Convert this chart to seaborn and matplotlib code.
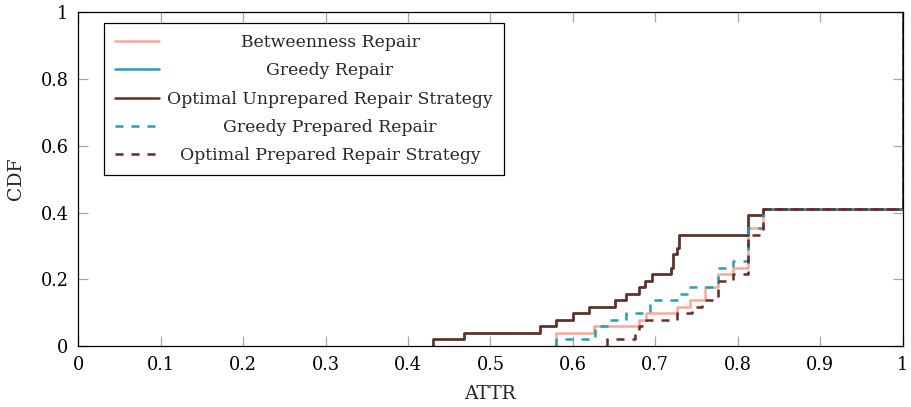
import numpy as np
import pandas as pd
import matplotlib
matplotlib.use("Agg")
import matplotlib.pyplot as plt
import seaborn as sns

# ATTR values where each strategy's empirical CDF steps, and how many
# networks share each value (the rest reach ATTR = 1).
betweenness_attr = [0.579, 0.6255, 0.680, 0.689, 0.7266, 0.742, 0.760, 0.776, 0.794, 0.8127, 0.831, 1.0]
betweenness_count = [2, 1, 1, 1, 1, 1, 2, 2, 1, 6, 3, 30]

greedy_attr = [0.4306, 0.468, 0.560, 0.579, 0.600, 0.6195, 0.651, 0.664, 0.6805, 0.687,
               0.696, 0.7186, 0.721, 0.726, 0.729, 0.8127, 0.831, 1.0]
greedy_count = [1, 1, 1, 1, 1, 1, 1, 1, 1, 1, 1, 1, 2, 1, 2, 3, 1, 30]

opt_unprep_attr = [0.4306, 0.468, 0.560, 0.579, 0.600, 0.6195, 0.651, 0.664, 0.6805, 0.687,
                   0.696, 0.7186, 0.721, 0.726, 0.729, 0.8127, 0.831, 1.0]
opt_unprep_count = [1, 1, 1, 1, 1, 1, 1, 1, 1, 1, 1, 1, 2, 1, 2, 3, 1, 30]

greedy_prep_attr = [0.579, 0.6268, 0.644, 0.664, 0.693, 0.729, 0.740, 0.776, 0.794, 0.8127, 0.831, 1.0]
greedy_prep_count = [1, 2, 1, 1, 2, 1, 1, 3, 1, 5, 3, 30]

opt_prep_attr = [0.641, 0.675, 0.680, 0.689, 0.7266, 0.744, 0.756, 0.776, 0.794, 0.8127, 0.831, 1.0]
opt_prep_count = [1, 1, 1, 1, 1, 1, 1, 3, 1, 6, 4, 30]

labels = ["Betweenness Repair", "Greedy Repair", "Optimal Unprepared Repair Strategy",
          "Greedy Prepared Repair", "Optimal Prepared Repair Strategy"]

x_ticks = [0, 0.1, 0.2, 0.3, 0.4, 0.5, 0.6, 0.7, 0.8, 0.9, 1]
x_tick_labels = ["0", "0.1", "0.2", "0.3", "0.4", "0.5", "0.6", "0.7", "0.8", "0.9", "1"]
y_ticks = [0, 0.2, 0.4, 0.6, 0.8, 1]
y_tick_labels = ["0", "0.2", "0.4", "0.6", "0.8", "1"]

SALMON = "#FFA797"
TEAL = "#22A0B4"
BROWN = "#6B2A22"

sns.set_style("white")
plt.rcParams["font.family"] = ["DejaVu Serif"]
plt.rcParams["mathtext.fontset"] = "dejavuserif"

fig = plt.figure(figsize=(9.11, 4.07), dpi=100)
ax = fig.add_axes([0.0859, 0.1499, 0.905, 0.8194])

series = [
    (betweenness_attr, betweenness_count, SALMON, "-"),
    (greedy_attr, greedy_count, TEAL, "-"),
    (opt_unprep_attr, opt_unprep_count, BROWN, "-"),
    (greedy_prep_attr, greedy_prep_count, TEAL, (0, (3.2, 3.2))),
    (opt_prep_attr, opt_prep_count, BROWN, (0, (3.2, 3.2))),
]

for (attr, count, color, ls), label in zip(series, labels):
    df = pd.DataFrame({"ATTR": attr, "n": count})
    sns.ecdfplot(data=df, x="ATTR", weights="n", ax=ax, color=color,
                 linestyle=ls, linewidth=1.8, label=label)

ax.set_xlim(0, 1)
ax.set_ylim(0, 1)
ax.set_xticks(x_ticks)
ax.set_xticklabels(x_tick_labels)
ax.set_yticks(y_ticks)
ax.set_yticklabels(y_tick_labels)
ax.set_xlabel("ATTR", fontsize=13.5, labelpad=8)
ax.set_ylabel("CDF", fontsize=13.5, labelpad=11)

ax.tick_params(axis="both", which="both", direction="in", length=7.5, width=0.9,
               color="#a6a6a6", labelsize=12.8, labelcolor="black",
               top=True, right=True, bottom=True, left=True)
ax.tick_params(axis="x", pad=7)
ax.tick_params(axis="y", pad=7)
for sp in ax.spines.values():
    sp.set_visible(True)
    sp.set_color("black")
    sp.set_linewidth(0.9)

leg = ax.legend(loc="upper left", bbox_to_anchor=(0.0308, 0.969), borderaxespad=0,
                fontsize=12.4, frameon=True, fancybox=False, framealpha=1,
                edgecolor="black", handlelength=2.6, handletextpad=0.45,
                labelspacing=0.66, borderpad=0.64)
leg.get_frame().set_linewidth(0.9)

# centre every legend entry's text inside the text column
fig.canvas.draw()
texts = leg.get_texts()
widths = [t.get_window_extent().width for t in texts]
wmax = max(widths)
for t, w in zip(texts, widths):
    t.set_x((wmax - w) / 2)

fig.savefig("out.png", dpi=100)
